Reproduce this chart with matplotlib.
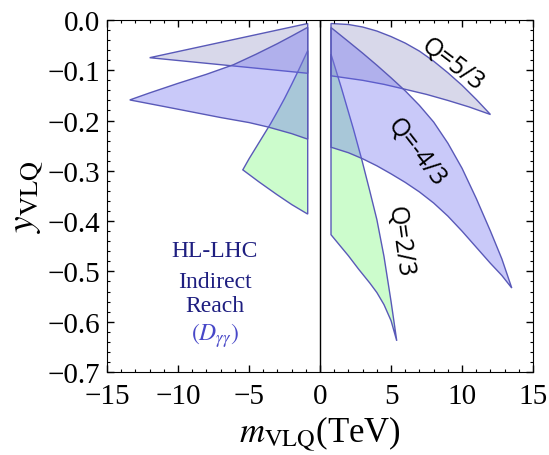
import matplotlib
matplotlib.use("Agg")
import matplotlib.pyplot as plt
from matplotlib.ticker import MultipleLocator

plt.rcParams["font.family"] = ["Liberation Serif", "DejaVu Serif"]
plt.rcParams["mathtext.fontset"] = "stix"

# region outlines (m in TeV, y)
left_gray_x = [-12.0, -0.87, -0.87]
left_gray_y = [-0.075, -0.007, -0.106]

left_blue_x = [-13.4, -12, -10, -8, -6.1, -4.5, -3, -2, -0.87,
               -0.87, -2, -3.64, -5, -7.0, -9, -11, -13.4]
left_blue_y = [-0.159, -0.145, -0.126, -0.108, -0.089, -0.068, -0.047, -0.032, -0.0146,
               -0.237, -0.226, -0.213, -0.204, -0.194, -0.183, -0.172, -0.159]

left_green_x = [-0.87, -1.5, -2.0, -2.5, -3.0, -3.5, -4.0, -4.5, -5.0, -5.44,
                -4.3, -3.05, -2.0, -0.87]
left_green_y = [-0.061, -0.099, -0.128, -0.156, -0.182, -0.207, -0.23, -0.253, -0.276, -0.298,
                -0.322, -0.347, -0.367, -0.386]

right_gray_x = [0.77, 2, 3, 4, 5, 6, 7, 8, 9, 10, 11, 12,
                10.5, 9, 7.5, 5.87, 4.5, 3, 0.77]
right_gray_y = [-0.007, -0.009, -0.014, -0.022, -0.033, -0.046, -0.062, -0.082,
                -0.105, -0.13, -0.158, -0.188,
                -0.173, -0.16, -0.148, -0.137, -0.128, -0.12, -0.111]

right_blue_x = [0.77, 2, 3, 4, 5, 6, 7, 8, 9, 10, 11, 12, 12.8, 13.5,
                12.8, 12, 11, 10, 9, 8, 7, 6, 5, 4, 3, 2, 0.77]
right_blue_y = [-0.015, -0.043, -0.066, -0.09, -0.115, -0.141, -0.17, -0.203,
                -0.245, -0.295, -0.355, -0.42, -0.475, -0.533,
                -0.508, -0.484, -0.452, -0.42, -0.39, -0.364, -0.342, -0.323,
                -0.306, -0.29, -0.276, -0.264, -0.253]

right_green_x = [0.77, 1.5, 2.35, 2.94, 3.5, 4.0, 4.5, 5.0, 5.4,
                 5.0, 4.5, 4.0, 3.5, 2.7, 2.0, 1.5, 0.77]
right_green_y = [-0.068, -0.135, -0.217, -0.278, -0.34, -0.397, -0.47, -0.56, -0.638,
                 -0.598, -0.566, -0.542, -0.523, -0.495, -0.469, -0.452, -0.427]

labels = ["Q=5/3", "Q=-4/3", "Q=2/3"]
label_x = [9.3, 6.8, 5.6]
label_y = [-0.087, -0.262, -0.44]
label_rot = [-37, -52, -82]

fig = plt.figure(figsize=(5.49, 4.56), dpi=100)
ax = fig.add_axes([0.195, 0.182, 0.776, 0.772])

edge = (0.35, 0.35, 0.72)
green = (0.43, 0.97, 0.43, 0.35)
gray = (0.57, 0.57, 0.77, 0.35)
blue = (0.40, 0.40, 0.94, 0.35)

for xs, ys, c in [(left_green_x, left_green_y, green),
                  (right_green_x, right_green_y, green),
                  (left_gray_x, left_gray_y, gray),
                  (right_gray_x, right_gray_y, gray),
                  (left_blue_x, left_blue_y, blue),
                  (right_blue_x, right_blue_y, blue)]:
    ax.fill(xs, ys, facecolor=c, edgecolor=edge, linewidth=1.0)

ax.axvline(0, color="black", linewidth=1.0)

for t, x, y, r in zip(labels, label_x, label_y, label_rot):
    ax.text(x, y, t, rotation=r, ha="center", va="center", fontsize=18,
            family=["Open Sans", "DejaVu Sans"], color="black",
            rotation_mode="anchor")

box_x = -7.4
ax.text(box_x, -0.458, "HL-LHC", ha="center", va="center", fontsize=17, color="#1e1e80")
ax.text(box_x, -0.52, "Indirect", ha="center", va="center", fontsize=17, color="#1e1e80")
ax.text(box_x, -0.567, "Reach", ha="center", va="center", fontsize=17, color="#1e1e80")
ax.text(box_x, -0.626, r"$(D_{\gamma\gamma})$", ha="center", va="center", fontsize=17,
        color="#4848c8")

ax.set_xlim(-15, 15)
ax.set_ylim(-0.7, 0.0)
ax.xaxis.set_major_locator(MultipleLocator(5))
ax.xaxis.set_minor_locator(MultipleLocator(1))
ax.yaxis.set_major_locator(MultipleLocator(0.1))
ax.yaxis.set_minor_locator(MultipleLocator(0.02))
ax.tick_params(which="both", direction="in", top=True, right=True, labelsize=21)
ax.tick_params(which="major", length=5, width=1)
ax.tick_params(which="minor", length=2.5, width=0.8)
ax.tick_params(axis="x", which="major", pad=8)
ax.tick_params(axis="y", which="major", pad=5)
ax.yaxis.set_major_formatter(plt.FuncFormatter(lambda v, p: ("%.1f" % v).replace("-", "\u2212")))

ax.set_xlabel(r"$m_{\rm VLQ}$(TeV)", fontsize=25, labelpad=3)
ax.set_ylabel(r"$y_{\rm VLQ}$", fontsize=27, labelpad=2)

fig.savefig("out.png", dpi=100)
